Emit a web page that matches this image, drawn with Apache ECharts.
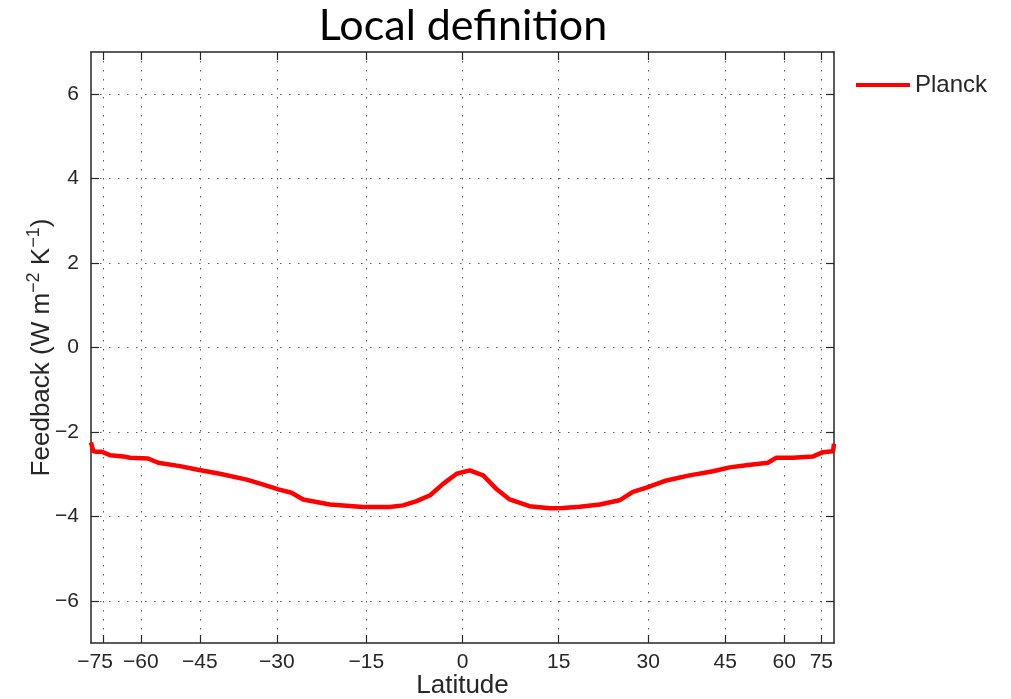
<!DOCTYPE html>
<html>
<head>
<meta charset="utf-8">
<script src="https://cdn.jsdelivr.net/npm/echarts@6/dist/echarts.min.js"></script>
<style>
  html, body { margin: 0; padding: 0; background: #fff; }
  #chart { width: 1011px; height: 699px; }
</style>
</head>
<body>
<div id="chart"></div>
<script>
// Zonal-mean Planck feedback against latitude (area-weighted, sine-latitude x axis)
const latitudes = [-90, -83.6, -80, -76.2, -71.6, -65.9, -63.5, -57.8, -55, -49.5,
  -45.7, -40.8, -35.5, -32.4, -29.7, -27.4, -25.4, -20.9, -15.5, -11.3,
  -9.2, -7.1, -5, -3, -0.9, 1.1, 3.2, 5.3, 7.3, 10.4,
  13.6, 15.7, 18.4, 21.7, 25, 27.3, 29.7, 33.3, 37.7, 42.4,
  46, 49.8, 55.3, 57.7, 62.8, 70.7, 76, 85.8, 90];
const planck = [-2.25, -2.46, -2.47, -2.47, -2.55, -2.58, -2.61, -2.63, -2.73, -2.81,
  -2.89, -2.99, -3.13, -3.25, -3.36, -3.44, -3.60, -3.72, -3.78, -3.78,
  -3.74, -3.64, -3.50, -3.23, -2.99, -2.91, -3.03, -3.36, -3.60, -3.76,
  -3.81, -3.80, -3.77, -3.72, -3.62, -3.42, -3.32, -3.15, -3.03, -2.93,
  -2.84, -2.79, -2.73, -2.61, -2.61, -2.58, -2.48, -2.46, -2.28];
const latTicks = [-75, -60, -45, -30, -15, 0, 15, 30, 45, 60, 75];
const feedbackTicks = [-6, -4, -2, 0, 2, 4, 6];

const D2R = Math.PI / 180;
const sinLat = lat => Math.sin(lat * D2R);
const fmtNum = v => (v < 0 ? '\u2212' + Math.abs(v) : String(v));
const latFromSin = s => Math.round(Math.asin(Math.max(-1, Math.min(1, s))) / D2R);

const xTickPos = latTicks.map(sinLat);
const seriesData = latitudes.map((lat, i) => [sinLat(lat), planck[i]]);

const ink = '#262626';
const labelFont = 'Liberation Sans, Arial, Helvetica, sans-serif';
const gridDots = { color: '#5a5a5a', width: 1, type: [1.5, 7.5] };

const chart = echarts.init(document.getElementById('chart'));
chart.setOption({
  animation: false,
  backgroundColor: '#ffffff',
  title: {
    text: 'Local definition',
    left: 458,
    top: 0,
    textAlign: 'center',
    textStyle: { fontFamily: 'Lato, Open Sans, sans-serif', fontSize: 43, fontWeight: 'normal', color: '#000' }
  },
  legend: {
    data: [{ name: 'Planck', icon: 'rect' }],
    left: 851,
    top: 66,
    itemWidth: 54,
    itemHeight: 4,
    textStyle: { fontFamily: labelFont, fontSize: 24, color: ink, lineHeight: 28 }
  },
  grid: { left: 91, right: 177, top: 52, bottom: 56, outerBoundsMode: 'none', containLabel: false },
  xAxis: [
    {
      type: 'value',
      min: -1,
      max: 1,
      position: 'bottom',
      name: 'Latitude',
      nameLocation: 'middle',
      nameGap: 30,
      nameMoveOverlap: false,
      nameTextStyle: { fontFamily: labelFont, fontSize: 26, color: ink },
      axisLine: { show: true, onZero: false, lineStyle: { color: ink, width: 1.5 } },
      axisTick: { show: true, inside: true, length: 8, customValues: xTickPos, lineStyle: { color: ink, width: 1.2 } },
      axisLabel: {
        customValues: xTickPos,
        margin: 9,
        fontFamily: labelFont,
        fontSize: 21,
        color: ink,
        formatter: v => {
          const lat = latFromSin(v);
          return lat === -75 ? '{shift|' + fmtNum(lat) + '}' : fmtNum(lat);
        },
        rich: { shift: { fontFamily: labelFont, fontSize: 21, color: ink, padding: [0, 17, 0, 0] } }
      },
      splitLine: { show: true, lineStyle: gridDots }
    },
    {
      type: 'value',
      min: -1,
      max: 1,
      position: 'top',
      axisLine: { show: true, onZero: false, lineStyle: { color: ink, width: 1.5 } },
      axisTick: { show: true, inside: true, length: 8, customValues: xTickPos, lineStyle: { color: ink, width: 1.2 } },
      axisLabel: { show: false },
      splitLine: { show: false }
    }
  ],
  yAxis: [
    {
      type: 'value',
      min: -7,
      max: 7,
      position: 'left',
      name: 'Feedback (W m{sup|\u22122} K{sup|\u22121})',
      nameLocation: 'middle',
      nameGap: 32,
      nameMoveOverlap: false,
      nameTextStyle: {
        fontFamily: labelFont, fontSize: 26, color: ink, lineHeight: 34,
        rich: { sup: { fontFamily: labelFont, fontSize: 18, color: ink, verticalAlign: 'top', lineHeight: 34 } }
      },
      axisLine: { show: true, onZero: false, lineStyle: { color: ink, width: 1.5 } },
      axisTick: { show: true, inside: true, length: 8, customValues: feedbackTicks, lineStyle: { color: ink, width: 1.2 } },
      axisLabel: { customValues: feedbackTicks, margin: 12, fontFamily: labelFont, fontSize: 21, color: ink, formatter: fmtNum },
      splitLine: { show: true, lineStyle: gridDots }
    },
    {
      type: 'value',
      min: -7,
      max: 7,
      position: 'right',
      axisLine: { show: true, onZero: false, lineStyle: { color: ink, width: 1.5 } },
      axisTick: { show: true, inside: true, length: 8, customValues: feedbackTicks, lineStyle: { color: ink, width: 1.2 } },
      axisLabel: { show: false },
      splitLine: { show: false }
    }
  ],
  series: [
    {
      name: 'Planck',
      type: 'line',
      xAxisIndex: 0,
      yAxisIndex: 0,
      data: seriesData,
      symbol: 'none',
      lineStyle: { color: '#ff0000', width: 4.5 },
      itemStyle: { color: '#ff0000' }
    }
  ]
});
</script>
</body>
</html>
